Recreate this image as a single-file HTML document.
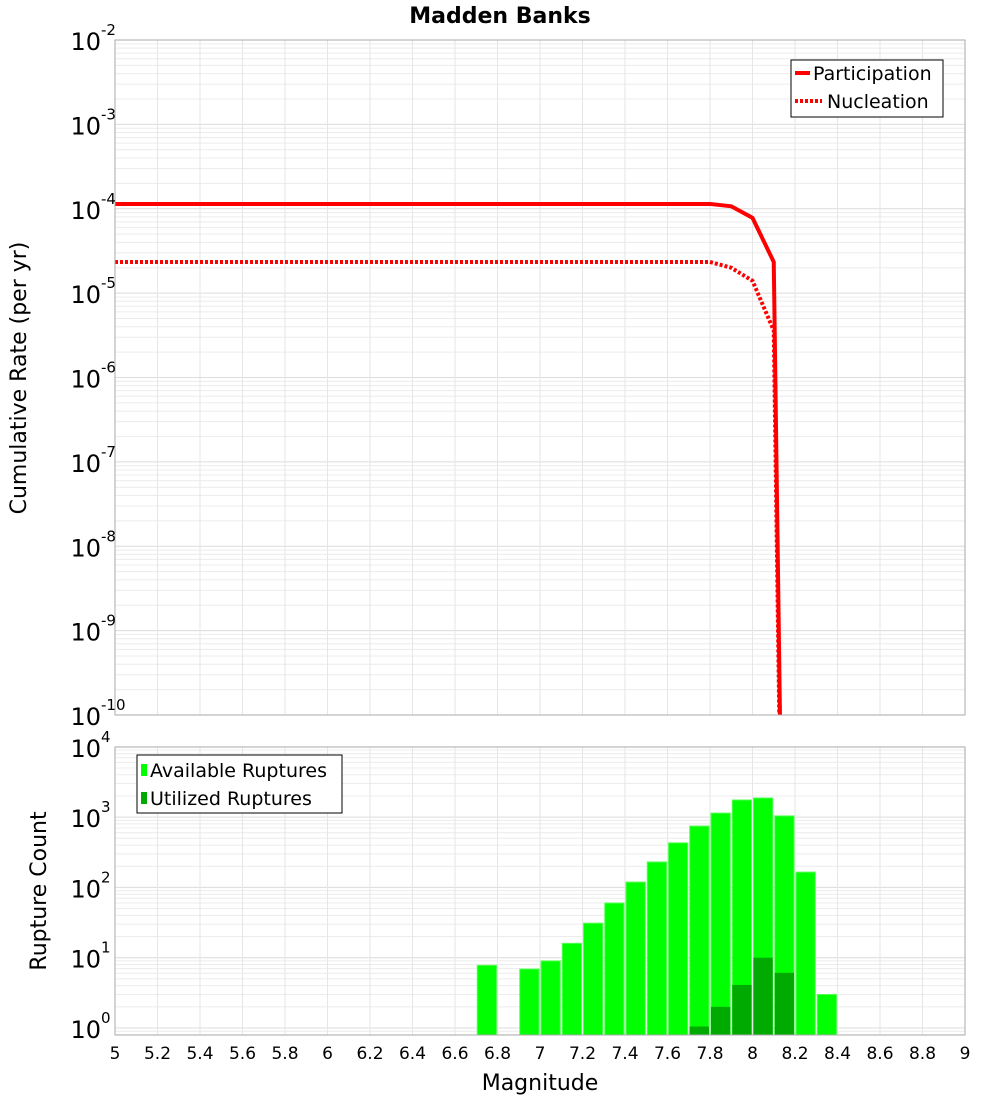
<!DOCTYPE html>
<html><head><meta charset="utf-8"><style>
body{margin:0;background:#fff;font-family:"DejaVu Sans","Liberation Sans",sans-serif}
svg text{font-family:"DejaVu Sans","Liberation Sans",sans-serif}
</style></head><body>
<svg id="chart" width="1000" height="1100" xmlns="http://www.w3.org/2000/svg">
<text x="500" y="23" text-anchor="middle" font-size="22" font-weight="bold">Madden Banks</text>
<g id="topg"></g><g id="botg"></g>
<text transform="translate(26,378) rotate(-90)" text-anchor="middle" font-size="22">Cumulative Rate (per yr)</text>
<text transform="translate(46,891) rotate(-90)" text-anchor="middle" font-size="22">Rupture Count</text>
<text x="540" y="1090" text-anchor="middle" font-size="22">Magnitude</text>
<g>
<rect x="791" y="60" width="152" height="57" fill="#fff" stroke="#000"/>
<line x1="795" y1="73" x2="810" y2="73" stroke="red" stroke-width="4"/>
<text x="813" y="80" font-size="19">Participation</text>
<line x1="795" y1="101" x2="822" y2="101" stroke="red" stroke-width="4" stroke-dasharray="3,2"/>
<text x="827" y="108" font-size="19">Nucleation</text>
</g>
<g>
<rect x="137" y="755" width="205" height="58" fill="#fff" stroke="#000"/>
<rect x="141" y="764" width="6" height="12" fill="#00ff00"/>
<text x="150" y="777" font-size="19">Available Ruptures</text>
<rect x="141" y="792" width="6" height="12" fill="#00aa00"/>
<text x="150" y="805" font-size="19">Utilized Ruptures</text>
</g>
</svg>
<script>
const mags=[5.0,5.1,5.2,5.3,5.4,5.5,5.6,5.7,5.8,5.9,6.0,6.1,6.2,6.3,6.4,6.5,6.6,6.7,6.8,6.9,7.0,7.1,7.2,7.3,7.4,7.5,7.6,7.7,7.8,7.9,8.0,8.1,8.2];
const participation=[1.14e-4,1.14e-4,1.14e-4,1.14e-4,1.14e-4,1.14e-4,1.14e-4,1.14e-4,1.14e-4,1.14e-4,1.14e-4,1.14e-4,1.14e-4,1.14e-4,1.14e-4,1.14e-4,1.14e-4,1.14e-4,1.14e-4,1.14e-4,1.14e-4,1.14e-4,1.14e-4,1.14e-4,1.14e-4,1.14e-4,1.14e-4,1.14e-4,1.14e-4,1.07e-4,7.8e-5,2.34e-5,1e-23];
const nucleation=[2.34e-5,2.34e-5,2.34e-5,2.34e-5,2.34e-5,2.34e-5,2.34e-5,2.34e-5,2.34e-5,2.34e-5,2.34e-5,2.34e-5,2.34e-5,2.34e-5,2.34e-5,2.34e-5,2.34e-5,2.34e-5,2.34e-5,2.34e-5,2.34e-5,2.34e-5,2.34e-5,2.34e-5,2.34e-5,2.34e-5,2.34e-5,2.34e-5,2.34e-5,2.0e-5,1.4e-5,3.6e-6,1e-23];
const binMags=[6.7,6.9,7.0,7.1,7.2,7.3,7.4,7.5,7.6,7.7,7.8,7.9,8.0,8.1,8.2,8.3];
const available=[7.8,6.9,9,16,31,60,119,230,430,745,1140,1750,1870,1040,165,3.0];
const utilized=[0,0,0,0,0,0,0,0,0,1.05,2,4.1,10,6.1,0,0];
const xTicks=["5","5.2","5.4","5.6","5.8","6","6.2","6.4","6.6","6.8","7","7.2","7.4","7.6","7.8","8","8.2","8.4","8.6","8.8","9"];
const topExp=[-2,-3,-4,-5,-6,-7,-8,-9,-10];
const botExp=[4,3,2,1,0];

const NS="http://www.w3.org/2000/svg";
const L=115,R=965;
const X=m=>L+(m-5)*(R-L)/4;
const T0=40,T1=715;
const YT=v=>T0+(-2-Math.log10(v))*(T1-T0)/8;
const B0=747,B1=1035,BD=70.3,Bone=1028;
const YB=v=>Bone-Math.log10(v)*BD;
function el(p,t,a){const e=document.createElementNS(NS,t);for(const k in a)e.setAttribute(k,a[k]);p.appendChild(e);return e;}
const topG=document.getElementById('topg'),botG=document.getElementById('botg');
const defs=el(document.getElementById('chart'),'defs',{});
const c1=el(defs,'clipPath',{id:'ct'});el(c1,'rect',{x:L,y:T0,width:R-L,height:T1-T0});
const c2=el(defs,'clipPath',{id:'cb'});el(c2,'rect',{x:L,y:B0,width:R-L,height:B1-B0});
function grid(g,y0,y1,yf,lo,hi){
  for(let e=lo;e<hi;e++)for(let k=1;k<10;k++){const y=yf(k*Math.pow(10,e));if(y<y0-0.5||y>y1+0.5)continue;
    const l=el(g,'line',{x1:L,x2:R,y1:y,y2:y,stroke:k===1?'#dcdcdc':'#ececec','stroke-width':1});
    
    }
  xTicks.forEach(t=>{const x=X(parseFloat(t));const l=el(g,'line',{x1:x,x2:x,y1:y0,y2:y1,stroke:'#e6e6e6'});
    
    });
}
grid(topG,T0,T1,YT,-10,-1);
grid(botG,B0,B1,YB,-1,4);
function line(arr,dash,name){const pts=mags.map((m,i)=>X(m)+','+YT(arr[i])).join(' ');
  const p=el(topG,'polyline',{points:pts,fill:'none',stroke:'#ff0000','stroke-width':4,'clip-path':'url(#ct)'});
  if(dash)p.setAttribute('stroke-dasharray','3,2');
  
  }
line(nucleation,true,'nucleation-line');
line(participation,false,'participation-line');
binMags.forEach((m,i)=>{const x=X(m)+1,w=X(m+0.1)-X(m)-2;
  if(available[i]>0){const y=YB(available[i]);const r=el(botG,'rect',{x:x,y:y,width:w,height:B1-y,fill:'#00ff00',stroke:'#55ff55','stroke-width':1,'clip-path':'url(#cb)'});
    
    }
  if(utilized[i]>0){const y=YB(utilized[i]);const r=el(botG,'rect',{x:x,y:y,width:w,height:B1-y,fill:'#00aa00','clip-path':'url(#cb)'});
    
    }
});
el(topG,'rect',{x:L,y:T0,width:R-L,height:T1-T0,fill:'none',stroke:'#aaa'});
el(botG,'rect',{x:L,y:B0,width:R-L,height:B1-B0,fill:'none',stroke:'#aaa'});
function ylab(g,y,e,name){const t=el(g,'text',{x:101,y:y+10,'text-anchor':'end','font-size':24});t.textContent='10';
  
  
  const s=el(g,'text',{x:101,y:y-5,'font-size':15});s.textContent=String(e);
  
  }
topExp.forEach(e=>ylab(topG,YT(Math.pow(10,e)),e,'top-y-tick-label'));
botExp.forEach(e=>ylab(botG,YB(Math.pow(10,e)),e,'bottom-y-tick-label'));
xTicks.forEach(t=>{const x=X(parseFloat(t));const tx=el(botG,'text',{x:x,y:1059,'text-anchor':'middle','font-size':17});tx.textContent=t;
  
  });
</script>
</body></html>
